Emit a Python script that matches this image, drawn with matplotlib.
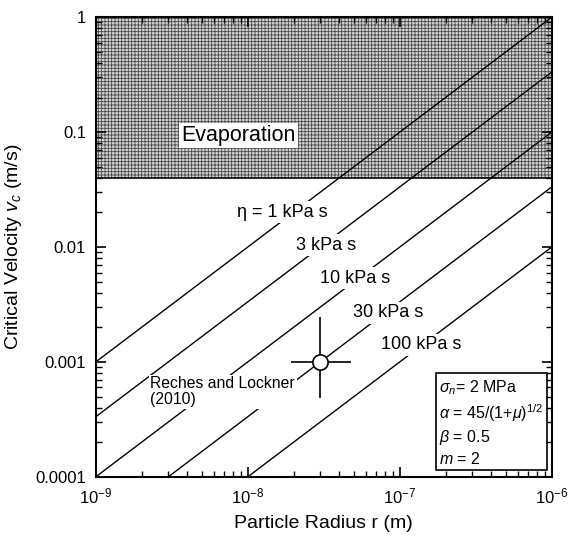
import matplotlib
matplotlib.use("Agg")
import matplotlib.pyplot as plt
import numpy as np

plt.rcParams['font.family'] = ['Liberation Sans', 'DejaVu Sans']
plt.rcParams['mathtext.fontset'] = 'custom'
plt.rcParams['mathtext.rm'] = 'Liberation Sans'
plt.rcParams['mathtext.it'] = 'Liberation Sans:italic'
plt.rcParams['mathtext.sf'] = 'Liberation Sans'
plt.rcParams['hatch.linewidth'] = 0.6
plt.rcParams['hatch.color'] = '#4a4a4a'

# viscosities (kPa s) and their labels
eta = [1, 3, 10, 30, 100]
eta_labels = ["\u03b7 = 1 kPa s", "3 kPa s", "10 kPa s", "30 kPa s", "100 kPa s"]
label_x = [1.68e-8, 3.26e-8, 5.12e-8, 8.4e-8, 1.38e-7]
label_y = [0.0201, 0.0104, 0.00537, 0.00267, 0.00141]

r_range = [1e-9, 1e-6]
v_evap = 0.04

# Reches and Lockner (2010) point
obs_r = 3e-8
obs_v = 1e-3
obs_r_err = [[obs_r - 1.93e-8], [4.8e-8 - obs_r]]
obs_v_err = [[obs_v - 4.9e-4], [2.45e-3 - obs_v]]

fig = plt.figure(figsize=(5.7, 5.37), dpi=100)
ax = fig.add_axes([0.168, 0.112, 0.800, 0.856])
ax.set_xscale('log')
ax.set_yscale('log')
ax.set_xlim(1e-9, 1e-6)
ax.set_ylim(1e-4, 1)

ax.fill_between(r_range, v_evap, 1, facecolor='#d4d4d4', edgecolor='#4a4a4a',
                hatch='+++++', linewidth=0, zorder=1)
ax.axhline(v_evap, color='black', lw=1.2, zorder=2)

r = np.array(r_range)
for e in eta:
    ax.plot(r, r * 1e6 / e, color='black', lw=1, zorder=2)

for txt, x, y in zip(eta_labels, label_x, label_y):
    ax.text(x, y, txt, fontsize=13, ha='center', va='center', zorder=3,
            bbox=dict(facecolor='white', edgecolor='none', pad=2))

ax.text(8.7e-9, 0.094, "Evaporation", fontsize=15.5, ha='center', va='center', zorder=3,
        bbox=dict(facecolor='white', edgecolor='none', pad=1.5))

ax.errorbar([obs_r], [obs_v], xerr=obs_r_err, yerr=obs_v_err, fmt='o', color='black',
            mfc='white', mec='black', ms=11, mew=1.2, elinewidth=1.2, capsize=0, zorder=4)
ax.text(2.29e-9, 5.5e-4, "Reches and Lockner\n(2010)", fontsize=11.3, ha='left',
        va='center', zorder=3, linespacing=1.1,
        bbox=dict(facecolor='white', edgecolor='none', pad=1))

params = ("$\\sigma_n$= 2 MPa\n"
          "$\\alpha$ = 45/(1+$\\mu$)$^{1/2}$\n"
          "$\\beta$ = 0.5\n"
          "$m$ = 2")
ax.text(0.753, 0.022, params, transform=ax.transAxes, fontsize=11.5, ha='left',
        va='bottom', linespacing=1.3, zorder=5,
        bbox=dict(facecolor='white', edgecolor='black', lw=1.2, pad=2.5))

ax.set_xticks([1e-9, 1e-8, 1e-7, 1e-6])
ax.set_xticklabels(['$10^{-9}$', '$10^{-8}$', '$10^{-7}$', '$10^{-6}$'])
ax.set_yticks([1e-4, 1e-3, 1e-2, 1e-1, 1])
ax.set_yticklabels(['0.0001', '0.001', '0.01', '0.1', '1'])
ax.tick_params(which='both', direction='in', top=True, right=True, labelsize=12)
ax.tick_params(which='major', length=7, width=1.2, pad=7)
ax.tick_params(which='minor', length=4, width=1)
for s in ax.spines.values():
    s.set_linewidth(1.5)
    s.set_zorder(6)

ax.set_xlabel("Particle Radius r (m)", fontsize=14, labelpad=6)
ax.set_ylabel("Critical Velocity $v_c$ (m/s)", fontsize=14, labelpad=8)

fig.savefig("out.png", dpi=100)
